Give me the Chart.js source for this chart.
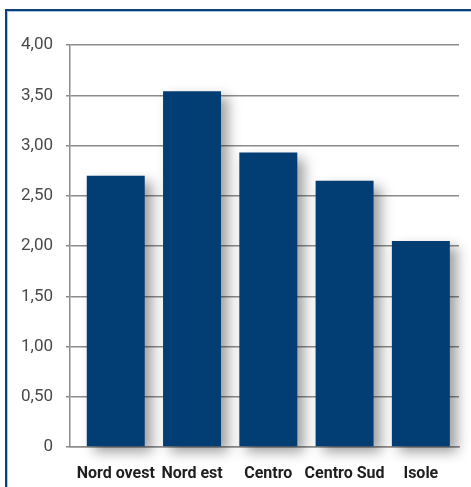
<!DOCTYPE html>
<html>
<head>
<meta charset="utf-8">
<script src="https://cdn.jsdelivr.net/npm/chart.js@4.4.1/dist/chart.umd.min.js"></script>
<style>
  html, body { margin: 0; padding: 0; background: #ffffff; overflow: hidden; }
  canvas { display: block; }
</style>
</head>
<body>
<canvas id="c" width="471" height="487"></canvas>
<script>
const categories = ["Nord ovest", "Nord est", "Centro", "Centro Sud", "Isole"];
const values = [2.70, 3.54, 2.93, 2.65, 2.05];
const yTicks = [0, 0.5, 1, 1.5, 2, 2.5, 3, 3.5, 4];

const FONT = "Roboto, 'DejaVu Sans', sans-serif";

const framePlugin = {
  id: 'frame',
  beforeDraw(chart) {
    const ctx = chart.ctx;
    const w = chart.width, h = chart.height;
    ctx.save();
    ctx.fillStyle = '#ffffff';
    ctx.fillRect(0, 0, w, h);
    ctx.fillStyle = '#0d3f78';
    ctx.fillRect(5, 9, w - 5, 2);
    ctx.fillRect(5, 9, 2, h - 9);
    ctx.fillStyle = '#a9c4e4';
    ctx.fillRect(7, 11, w - 7, 1);
    ctx.fillRect(7, 11, 1, h - 11);
    ctx.restore();
  }
};

const shadowPlugin = {
  id: 'barShadow',
  beforeDatasetsDraw(chart) {
    const ctx = chart.ctx;
    ctx.save();
    ctx.shadowColor = 'rgba(0,0,0,0.38)';
    ctx.shadowBlur = 12;
    ctx.shadowOffsetX = 7;
    ctx.shadowOffsetY = 6;
  },
  afterDatasetsDraw(chart) {
    chart.ctx.restore();
  }
};

new Chart(document.getElementById('c'), {
  type: 'bar',
  data: {
    datasets: [{
      data: values.map((v, i) => ({ x: i, y: v })),
      backgroundColor: '#023d74',
      borderWidth: 0,
      categoryPercentage: 1,
      barPercentage: 0.76,
      clip: false
    }]
  },
  options: {
    responsive: false,
    animation: false,
    devicePixelRatio: 1,
    layout: { padding: { top: 45, right: 12, left: 0, bottom: 0 } },
    plugins: { legend: { display: false }, tooltip: { enabled: false } },
    scales: {
      x: {
        type: 'linear',
        offset: false,
        min: -0.6,
        max: 4.5,
        z: 1,
        grid: { display: false },
        border: { display: true, color: '#8c8c8c', width: 1.5 },
        afterBuildTicks(scale) {
          scale.ticks = categories.map((_, i) => ({ value: i }));
        },
        afterFit(scale) { scale.height = 40; },
        ticks: {
          autoSkip: false,
          maxRotation: 0,
          padding: 9,
          color: '#1e1e1e',
          font: { family: FONT, size: 16, weight: 'bold' },
          callback: (v) => categories[v] ?? ''
        }
      },
      y: {
        min: 0,
        max: 4,
        afterBuildTicks(scale) {
          scale.ticks = yTicks.map(v => ({ value: v }));
        },
        afterFit(scale) { scale.width = 70; },
        grid: { color: '#8c8c8c', lineWidth: 1.5, tickLength: 4, drawTicks: true },
        border: { display: true, color: '#8c8c8c', width: 1.5 },
        ticks: {
          padding: 13,
          color: '#4a4a4a',
          font: { family: FONT, size: 17 },
          callback: (v) => v === 0 ? '0' : v.toFixed(2).replace('.', ',')
        }
      }
    }
  },
  plugins: [framePlugin, shadowPlugin]
});
</script>
</body>
</html>
